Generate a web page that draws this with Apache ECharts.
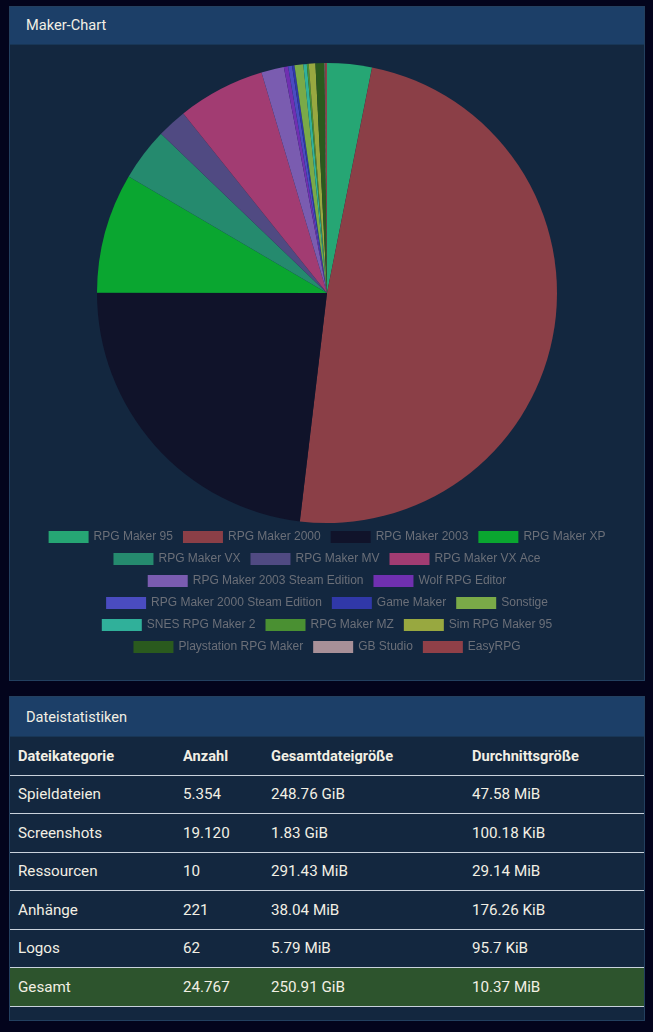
<!DOCTYPE html>
<html>
<head>
<meta charset="utf-8">
<script src="https://cdn.jsdelivr.net/npm/echarts@6/dist/echarts.min.js"></script>
<style>
  html, body { margin: 0; padding: 0; background: #03041c; font-family: Roboto, "Noto Sans", sans-serif; }
  .card { position: absolute; left: 9px; width: 636px; border: 1px solid #23405f; background: #13273f; box-sizing: border-box; }
  .card-head { background: #1c3f68; color: #f2efe4; font-size: 14.6px; padding: 0 16px; border-bottom: 1px solid #183656; }
  #maker { top: 6px; height: 675px; }
  #maker .card-head { height: 37px; line-height: 36px; }
  #chart { width: 634px; height: 636px; }
  #stats { top: 696px; height: 325px; }
  #stats .card-head { height: 39px; line-height: 40px; }
  table { border-collapse: collapse; table-layout: fixed; width: 100%; color: #f2efe4; font-size: 15.2px; }
  td, th { text-align: left; padding: 0 8px; height: 37.5px; border-bottom: 1px solid #c9d2dc; white-space: nowrap; }
  th { font-weight: bold; font-size: 14.6px; }
  tr.total td { background: #2d542d; }
</style>
</head>
<body>
<div class="card" id="maker">
  <div class="card-head">Maker-Chart</div>
  <div id="chart"></div>
</div>
<div class="card" id="stats">
  <div class="card-head">Dateistatistiken</div>
  <table id="tbl"></table>
</div>
<script>
// Maker-Verteilung (geschätzt aus dem Diagramm)
const makers = ['RPG Maker 95', 'RPG Maker 2000', 'RPG Maker 2003', 'RPG Maker XP', 'RPG Maker VX', 'RPG Maker MV',
  'RPG Maker VX Ace', 'RPG Maker 2003 Steam Edition', 'Wolf RPG Editor', 'RPG Maker 2000 Steam Edition', 'Game Maker',
  'Sonstige', 'SNES RPG Maker 2', 'RPG Maker MZ', 'Sim RPG Maker 95', 'Playstation RPG Maker', 'GB Studio', 'EasyRPG'];
const makerCounts = [168, 2610, 1238, 452, 199, 112, 329, 85, 16, 15, 9, 33, 13, 7, 25, 34, 2, 7];
const makerColors = ['#26a674', '#8b3f47', '#10132a', '#0aa630', '#258a6e', '#504a82', '#a23c72', '#7a5cb0', '#7030b0',
  '#4a4cc0', '#3038a8', '#7aaa48', '#30b09a', '#4a9032', '#98a840', '#2a5a1e', '#a89098', '#904048'];
// Legendenzeilen (Anzahl Einträge pro Zeile)
const legendRows = [4, 3, 2, 3, 3, 3];

// Dateistatistiken
const statHeaders = ['Dateikategorie', 'Anzahl', 'Gesamtdateigröße', 'Durchnittsgröße'];
const statRows = [
  ['Spieldateien', '5.354', '248.76 GiB', '47.58 MiB'],
  ['Screenshots', '19.120', '1.83 GiB', '100.18 KiB'],
  ['Ressourcen', '10', '291.43 MiB', '29.14 MiB'],
  ['Anhänge', '221', '38.04 MiB', '176.26 KiB'],
  ['Logos', '62', '5.79 MiB', '95.7 KiB'],
  ['Gesamt', '24.767', '250.91 GiB', '10.37 MiB']
];

const colW = ['165px', '88px', '201px', 'auto'];
let html = '<colgroup>' + colW.map(w => `<col style="width:${w}">`).join('') + '</colgroup>';
html += '<tr>' + statHeaders.map(h => `<th>${h}</th>`).join('') + '</tr>';
statRows.forEach((r, i) => {
  html += `<tr${i === statRows.length - 1 ? ' class="total"' : ''}>` + r.map(c => `<td>${c}</td>`).join('') + '</tr>';
});
document.getElementById('tbl').innerHTML = html;

// eine Legende pro Zeile, damit jede Zeile zentriert ist
const legends = [];
let start = 0;
legendRows.forEach((n, i) => {
  legends.push({
    top: 481 + i * 22,
    left: 'center',
    itemWidth: 40,
    itemHeight: 12,
    itemGap: 10,
    icon: 'rect',
    textStyle: { color: '#6b6f78', fontSize: 12, fontFamily: 'Liberation Sans, Arial, sans-serif' },
    data: makers.slice(start, start + n)
  });
  start += n;
});

const chart = echarts.init(document.getElementById('chart'));
chart.setOption({
  color: makerColors,
  animation: false,
  legend: legends,
  series: [{
    type: 'pie',
    center: [317, 248],
    radius: 230,
    startAngle: 90,
    label: { show: false },
    labelLine: { show: false },
    itemStyle: { borderWidth: 0 },
    data: makers.map((n, i) => ({ name: n, value: makerCounts[i] }))
  }]
});
</script>
</body>
</html>
